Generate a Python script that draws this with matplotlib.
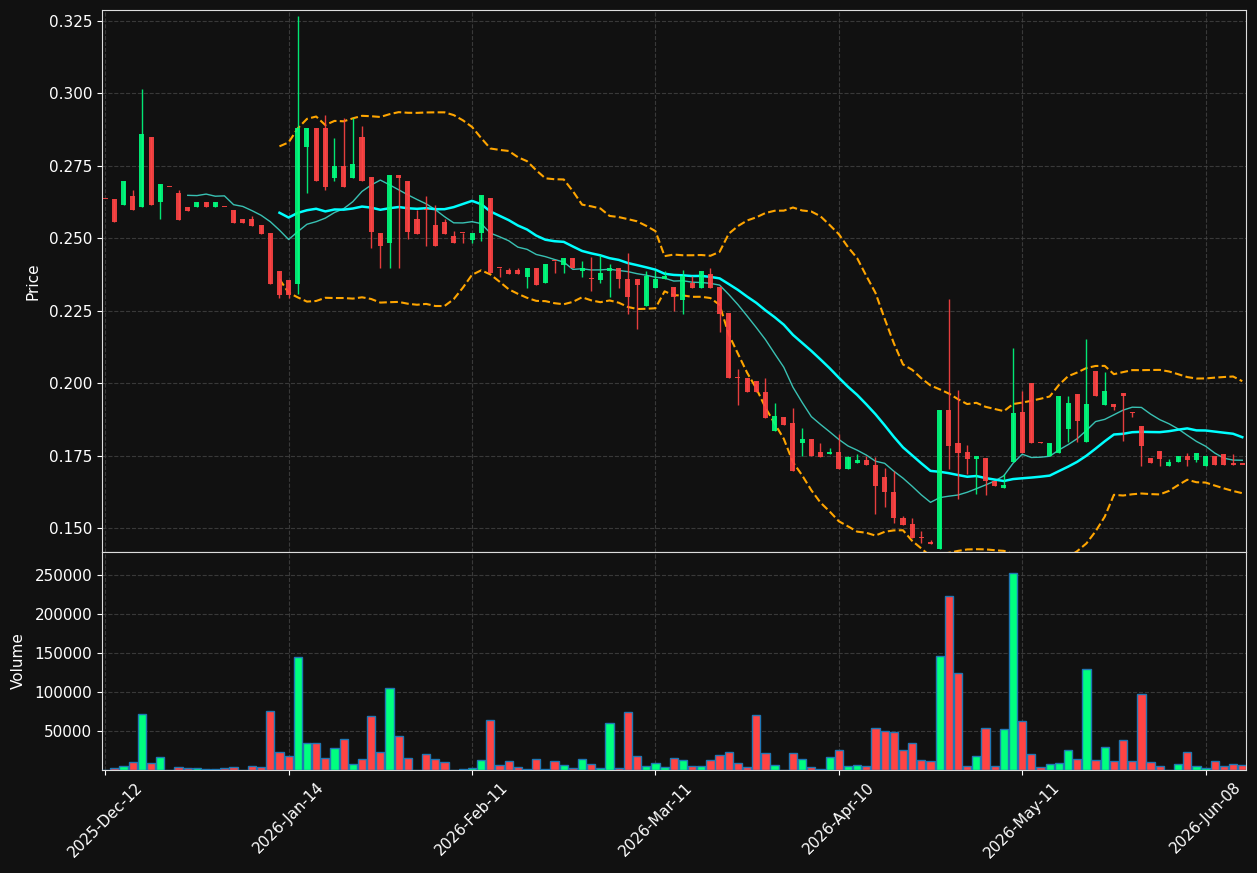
import numpy as np
import pandas as pd
import matplotlib
matplotlib.use('Agg')
import matplotlib.pyplot as plt

opens = [
    0.2635, 0.2637, 0.2614, 0.2647, 0.2607, 0.2848, 0.2624, 0.2677, 0.2657, 0.2609,
    0.2607, 0.2626, 0.2607, 0.2608, 0.2599, 0.2567, 0.2567, 0.2546, 0.2519, 0.2387,
    0.2356, 0.2343, 0.2815, 0.2880, 0.2880, 0.2707, 0.2748, 0.2707, 0.2848, 0.2710,
    0.2519, 0.2485, 0.2717, 0.2699, 0.2566, 0.2597, 0.2546, 0.2557, 0.2508, 0.2519,
    0.2494, 0.2520, 0.2639, 0.2398, 0.2389, 0.2389, 0.2367, 0.2399, 0.2346, 0.2420,
    0.2409, 0.2432, 0.2388, 0.2358, 0.2355, 0.2388, 0.2399, 0.2358, 0.2358, 0.2266,
    0.2329, 0.2358, 0.2331, 0.2286, 0.2347, 0.2329, 0.2378, 0.2331, 0.2241, 0.2017,
    0.2019, 0.2008, 0.1970, 0.1836, 0.1883, 0.1862, 0.1794, 0.1806, 0.1761, 0.1756,
    0.1762, 0.1704, 0.1725, 0.1736, 0.1719, 0.1675, 0.1625, 0.1535, 0.1512, 0.1469,
    0.1448, 0.1426, 0.1907, 0.1793, 0.1762, 0.1739, 0.1741, 0.1662, 0.1638, 0.1728,
    0.1902, 0.2001, 0.1796, 0.1748, 0.1759, 0.1843, 0.1963, 0.1798, 0.2043, 0.1926,
    0.1928, 0.1966, 0.1900, 0.1852, 0.1741, 0.1765, 0.1714, 0.1728, 0.1750, 0.1736,
    0.1714, 0.1750, 0.1754, 0.1719, 0.1719,
]
highs = [
    0.2635, 0.2637, 0.2699, 0.2668, 0.3017, 0.2848, 0.2689, 0.2677, 0.2666, 0.2609,
    0.2626, 0.2626, 0.2626, 0.2608, 0.2599, 0.2567, 0.2576, 0.2546, 0.2519, 0.2387,
    0.2356, 0.3269, 0.2880, 0.2880, 0.2927, 0.2847, 0.2917, 0.2917, 0.2889, 0.2710,
    0.2519, 0.2717, 0.2717, 0.2699, 0.2597, 0.2646, 0.2616, 0.2566, 0.2526, 0.2519,
    0.2519, 0.2650, 0.2639, 0.2398, 0.2399, 0.2399, 0.2399, 0.2399, 0.2410, 0.2420,
    0.2431, 0.2432, 0.2420, 0.2436, 0.2441, 0.2410, 0.2399, 0.2448, 0.2358, 0.2388,
    0.2390, 0.2388, 0.2331, 0.2390, 0.2369, 0.2387, 0.2397, 0.2331, 0.2241, 0.2049,
    0.2019, 0.2008, 0.2019, 0.1931, 0.1883, 0.1914, 0.1846, 0.1806, 0.1794, 0.1777,
    0.1825, 0.1750, 0.1756, 0.1750, 0.1745, 0.1708, 0.1695, 0.1540, 0.1535, 0.1489,
    0.1458, 0.1907, 0.2290, 0.1977, 0.1785, 0.1748, 0.1741, 0.1662, 0.1685, 0.2121,
    0.1973, 0.2001, 0.1796, 0.1792, 0.1955, 0.1955, 0.1963, 0.2153, 0.2043, 0.2040,
    0.1928, 0.1966, 0.1900, 0.1852, 0.1741, 0.1765, 0.1739, 0.1750, 0.1760, 0.1760,
    0.1750, 0.1750, 0.1754, 0.1754, 0.1719,
]
lows = [
    0.2635, 0.2555, 0.2614, 0.2596, 0.2607, 0.2614, 0.2566, 0.2677, 0.2564, 0.2595,
    0.2607, 0.2607, 0.2607, 0.2608, 0.2554, 0.2554, 0.2544, 0.2516, 0.2343, 0.2293,
    0.2295, 0.2306, 0.2655, 0.2697, 0.2667, 0.2697, 0.2676, 0.2707, 0.2697, 0.2465,
    0.2396, 0.2396, 0.2396, 0.2497, 0.2516, 0.2475, 0.2475, 0.2516, 0.2485, 0.2485,
    0.2485, 0.2489, 0.2379, 0.2367, 0.2377, 0.2377, 0.2330, 0.2339, 0.2346, 0.2379,
    0.2379, 0.2397, 0.2367, 0.2318, 0.2346, 0.2298, 0.2330, 0.2240, 0.2188, 0.2266,
    0.2329, 0.2358, 0.2250, 0.2240, 0.2329, 0.2329, 0.2329, 0.2176, 0.2016, 0.1924,
    0.1968, 0.1968, 0.1881, 0.1836, 0.1857, 0.1697, 0.1748, 0.1748, 0.1746, 0.1756,
    0.1704, 0.1704, 0.1725, 0.1718, 0.1549, 0.1572, 0.1516, 0.1509, 0.1465, 0.1448,
    0.1446, 0.1426, 0.1705, 0.1601, 0.1685, 0.1618, 0.1615, 0.1645, 0.1638, 0.1728,
    0.1758, 0.1794, 0.1794, 0.1748, 0.1759, 0.1798, 0.1798, 0.1798, 0.1954, 0.1926,
    0.1907, 0.1800, 0.1882, 0.1714, 0.1725, 0.1714, 0.1714, 0.1728, 0.1714, 0.1728,
    0.1714, 0.1718, 0.1718, 0.1719, 0.1719,
]
closes = [
    0.2635, 0.2555, 0.2699, 0.2596, 0.2859, 0.2614, 0.2689, 0.2677, 0.2564, 0.2595,
    0.2626, 0.2607, 0.2626, 0.2608, 0.2554, 0.2554, 0.2544, 0.2516, 0.2343, 0.2303,
    0.2303, 0.2880, 0.2880, 0.2697, 0.2676, 0.2748, 0.2676, 0.2758, 0.2697, 0.2523,
    0.2475, 0.2717, 0.2707, 0.2523, 0.2516, 0.2597, 0.2475, 0.2516, 0.2485, 0.2519,
    0.2519, 0.2650, 0.2379, 0.2398, 0.2377, 0.2377, 0.2399, 0.2339, 0.2410, 0.2420,
    0.2431, 0.2397, 0.2399, 0.2358, 0.2379, 0.2399, 0.2358, 0.2298, 0.2339, 0.2369,
    0.2358, 0.2369, 0.2297, 0.2369, 0.2329, 0.2387, 0.2329, 0.2238, 0.2016, 0.2017,
    0.1968, 0.1968, 0.1881, 0.1887, 0.1857, 0.1697, 0.1806, 0.1748, 0.1746, 0.1762,
    0.1704, 0.1744, 0.1734, 0.1718, 0.1645, 0.1624, 0.1534, 0.1509, 0.1465, 0.1465,
    0.1446, 0.1907, 0.1784, 0.1759, 0.1739, 0.1748, 0.1662, 0.1645, 0.1647, 0.1897,
    0.1758, 0.1794, 0.1794, 0.1792, 0.1955, 0.1931, 0.1870, 0.1928, 0.1954, 0.1973,
    0.1916, 0.1954, 0.1896, 0.1784, 0.1725, 0.1739, 0.1729, 0.1750, 0.1735, 0.1760,
    0.1750, 0.1718, 0.1718, 0.1719, 0.1719,
]
volumes = [
    500, 2600, 5100, 10300, 71800, 9000, 16700, 300, 3800, 2100,
    2100, 900, 900, 2600, 3800, 300, 5100, 3800, 75600, 23100,
    17900, 144900, 34600, 34600, 15400, 28200, 39700, 7700, 14100, 69200,
    23100, 105100, 43600, 15400, 500, 20500, 14100, 10300, 300, 1300,
    2100, 12800, 64100, 6400, 11500, 3800, 900, 14100, 1300, 11500,
    6400, 2100, 14100, 7700, 2100, 60300, 2100, 74400, 17900, 5100,
    9000, 3800, 15400, 12800, 5100, 5100, 12800, 19200, 23100, 9000,
    3800, 70500, 21800, 6400, 300, 21800, 14100, 3800, 1300, 16700,
    25600, 5100, 6400, 5100, 53900, 50000, 48700, 25600, 34600, 12800,
    11500, 146200, 223100, 124400, 5100, 17900, 53900, 5100, 52600, 252600,
    62800, 20500, 3800, 7700, 9000, 25600, 14100, 129500, 12800, 29500,
    11500, 38500, 11500, 97400, 10300, 5100, 300, 7700, 23100, 5100,
    2100, 11500, 5100, 7700, 6400,
]
tick_labels = ['2025-Dec-12', '2026-Jan-14', '2026-Feb-11', '2026-Mar-11',
               '2026-Apr-10', '2026-May-11', '2026-Jun-08']

BG = '#111111'
UP = '#00ff7f'
DOWN = '#ff4444'

o = np.array(opens); h = np.array(highs); l = np.array(lows); c = np.array(closes)
v = np.array(volumes)
n = len(c)
x = np.arange(n)
up = c > o
cols = np.where(up, UP, DOWN)

close_s = pd.Series(c)
sma10 = close_s.rolling(10).mean()
sma20 = close_s.rolling(20).mean()
std20 = close_s.rolling(20).std(ddof=0)
bb_up = sma20 + 2 * std20
bb_lo = sma20 - 2 * std20

fig = plt.figure(figsize=(12.57, 8.73), dpi=100, facecolor=BG)
ax = fig.add_axes([0.0811, 0.3677, 0.9101, 0.6208], facecolor=BG)
axv = fig.add_axes([0.0811, 0.1180, 0.9101, 0.2497], facecolor=BG, sharex=ax)

# indicator lines
ax.plot(x, sma10, color='#40e0d0', lw=1.0, alpha=0.85, zorder=2)
ax.plot(x, sma20, color='#00ffff', lw=1.8, zorder=2)
ax.plot(x, bb_up, color='#ffa500', lw=1.5, ls='--', zorder=2)
ax.plot(x, bb_lo, color='#ffa500', lw=1.5, ls='--', zorder=2)

# candles
body_bot = np.minimum(o, c)
body_h = np.maximum(np.abs(c - o), 0.0004)
ax.vlines(x, l, h, colors=cols, lw=1.0, alpha=0.9, zorder=3)
ax.bar(x, body_h, bottom=body_bot, width=0.55, color=cols, alpha=0.9,
       linewidth=0, zorder=4)

# volume
axv.bar(x, v, width=0.9, color=cols, edgecolor='#1f77b4', linewidth=1.0, zorder=3)

tick_pos = np.arange(0, n, 20)[:len(tick_labels)]
for a in (ax, axv):
    a.set_xlim(-0.36, 124.4)
    a.grid(True, color='#444444', ls='--', lw=0.8, alpha=0.8)
    a.set_axisbelow(True)
    for s in a.spines.values():
        s.set_color('#dddddd')
    a.tick_params(colors='white', labelsize=11)

ax.set_ylim(0.1417, 0.3288)
ax.set_yticks([0.150, 0.175, 0.200, 0.225, 0.250, 0.275, 0.300, 0.325])
ax.set_yticklabels(['%.3f' % t for t in ax.get_yticks()])
ax.set_ylabel('Price', color='white', fontsize=11, labelpad=6)
ax.set_xticks(tick_pos)
ax.tick_params(axis='x', labelbottom=False)

axv.set_ylim(0, 280000)
axv.set_yticks([50000, 100000, 150000, 200000, 250000])
axv.set_yticklabels(['50000', '100000', '150000', '200000', '250000'])
axv.set_ylabel('Volume', color='white', fontsize=11, labelpad=6)
axv.set_xticks(tick_pos)
axv.set_xticklabels(tick_labels, rotation=45, ha='center')

fig.savefig('out.png', dpi=100, facecolor=BG)
